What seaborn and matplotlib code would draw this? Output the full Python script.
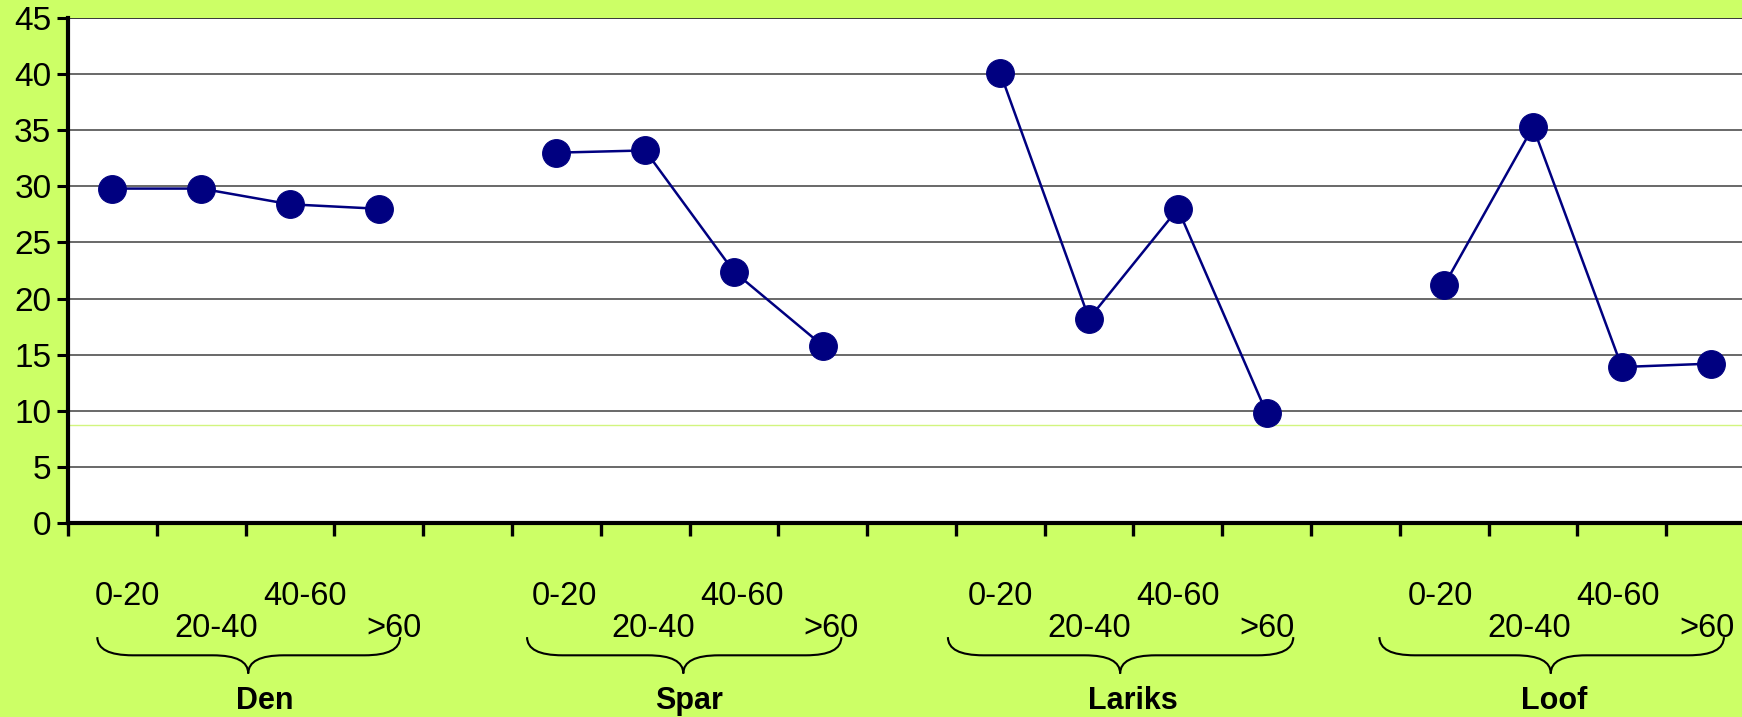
import numpy as np
import pandas as pd
import matplotlib
matplotlib.use('Agg')
import matplotlib.pyplot as plt
import matplotlib.transforms as mtransforms
from matplotlib.path import Path
from matplotlib.patches import PathPatch
import seaborn as sns

# ---------------------------
# DATA
# ---------------------------
groups = ['Den', 'Spar', 'Lariks', 'Loof']
classes = ['0-20', '20-40', '40-60', '>60']
den = [29.8, 29.8, 28.4, 28.0]
spar = [33.0, 33.2, 22.4, 15.8]
lariks = [40.1, 18.2, 28.0, 9.8]
loof = [21.2, 35.3, 13.9, 14.2]
ref_line = 8.7

# ---------------------------
# LAYOUT (slot units, relative to first slot of each group)
# ---------------------------
label_shift = [0.17, 0.09, 0.0, -0.04]
brace_left = [-0.17, -0.33, -0.59, -0.73]
brace_right = [3.24, 3.21, 3.30, 3.15]
brace_tip = [1.53, 1.43, 1.35, 1.20]
name_x = [1.72, 1.49, 1.49, 1.24]

bg = '#CCFF66'
navy = '#000080'

rows = []
for g, (name, vals) in enumerate(zip(groups, [den, spar, lariks, loof])):
    for i, (c, v) in enumerate(zip(classes, vals)):
        rows.append({'group': name, 'cls': c, 'pos': g * 5 + i, 'value': v})
df = pd.DataFrame(rows)

sns.set_style('white')
plt.rcParams['font.family'] = ['Liberation Sans', 'DejaVu Sans']
plt.rcParams['text.color'] = 'black'
plt.rcParams['ytick.color'] = 'black'
plt.rcParams['xtick.color'] = 'black'

fig = plt.figure(figsize=(17.42, 7.17), dpi=100, facecolor=bg)
ax = fig.add_axes([68 / 1742, 1 - 523 / 717, (1755 - 68) / 1742, 505 / 717])
ax.set_facecolor('white')

# gridlines
for yv in range(5, 50, 5):
    ax.axhline(yv, color='#000000' if yv == 45 else '#404040', lw=1.1, zorder=1)
ax.axhline(ref_line, color='#d2f57f', lw=1.0, zorder=1)

sns.lineplot(data=df, x='pos', y='value', hue='group', palette=[navy] * 4,
             marker='o', markersize=20, markeredgecolor=navy, lw=1.8,
             legend=False, ax=ax, zorder=3)

ax.set_xlim(-0.5, 18.5)
ax.set_ylim(0, 45)
ax.set_yticks(range(0, 50, 5))
ax.set_xticks(np.arange(-0.5, 18.6, 1.0))
ax.set_xticklabels([])
ax.set_xlabel('')
ax.set_ylabel('')
ax.tick_params(axis='y', direction='out', length=8, width=2.2, pad=4,
               labelsize=24, left=True, labelcolor='black')
ax.tick_params(axis='x', direction='out', length=9, width=2.4, bottom=True)

for side in ['top', 'right']:
    ax.spines[side].set_visible(False)
for side in ['left', 'bottom']:
    ax.spines[side].set_linewidth(3)
    ax.spines[side].set_color('black')

# ---------------------------
# CATEGORY LABELS AND BRACES
# ---------------------------
trans = mtransforms.blended_transform_factory(ax.transData, ax.transAxes)
row_y = [-0.145, -0.208, -0.145, -0.208]
y_top, y_mid, y_bot = -0.226, -0.262, -0.298

for g, name in enumerate(groups):
    start = g * 5
    for i, c in enumerate(classes):
        ax.text(start + i + label_shift[g], row_y[i], c, transform=trans,
                ha='center', va='center', fontsize=23.5, color='black', clip_on=False)

    L = start + brace_left[g]
    R = start + brace_right[g]
    T = start + brace_tip[g]
    r = 0.4
    verts = [
        (L, y_top), (L, y_mid), (L + r, y_mid),
        (T - r, y_mid),
        (T, y_mid), (T, y_bot),
        (T, y_mid), (T + r, y_mid),
        (R - r, y_mid),
        (R, y_mid), (R, y_top),
    ]
    codes = [Path.MOVETO, Path.CURVE3, Path.CURVE3,
             Path.LINETO,
             Path.CURVE3, Path.CURVE3,
             Path.CURVE3, Path.CURVE3,
             Path.LINETO,
             Path.CURVE3, Path.CURVE3]
    ax.add_patch(PathPatch(Path(verts, codes), transform=trans, fill=False,
                           lw=1.5, color='black', clip_on=False))

    ax.text(start + name_x[g], -0.352, name, transform=trans, ha='center',
            va='center', fontsize=22, fontweight='bold', color='black', clip_on=False)

fig.savefig('out.png', dpi=100, facecolor=bg)
